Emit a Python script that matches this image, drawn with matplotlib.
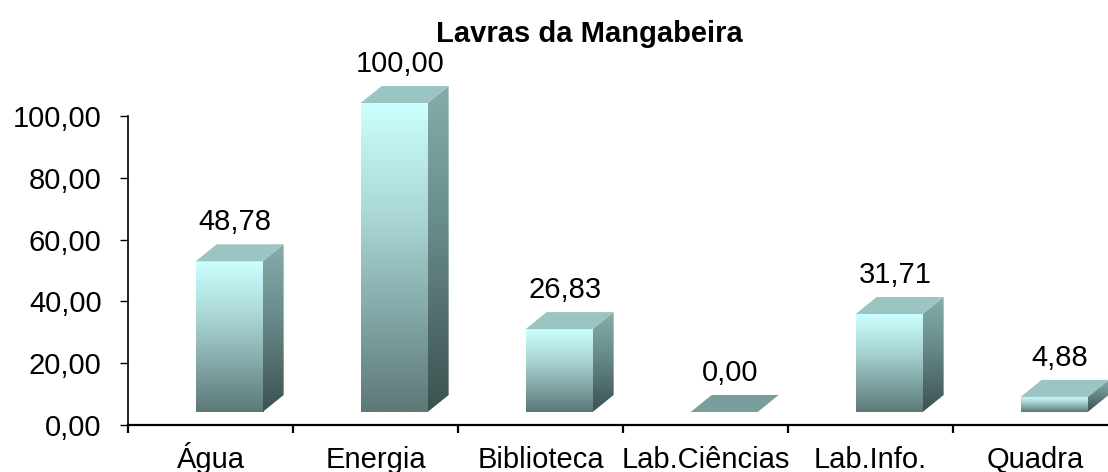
import numpy as np
import matplotlib
matplotlib.use("Agg")
import matplotlib.pyplot as plt
from matplotlib.patches import Polygon
from matplotlib.colors import to_rgb

categories = ["Água", "Energia", "Biblioteca", "Lab.Ciências", "Lab.Info.", "Quadra"]
values = [48.78, 100.00, 26.83, 0.00, 31.71, 4.88]
yticks = [0, 20, 40, 60, 80, 100]
title = "Lavras da Mangabeira"

plt.rcParams['font.family'] = ['Liberation Sans', 'DejaVu Sans']

W, H = 1108, 472
fig = plt.figure(figsize=(W / 100, H / 100), dpi=100)
cat_px = 165.0
ypx = 3.09
ytop = 125.0
ax = fig.add_axes([128 / W, (H - 425) / H, 6 * cat_px / W, ytop * ypx / H])
ax.set_xlim(0, 6)
ax.set_ylim(0, ytop)

ux = 1 / cat_px
uy = 1 / ypx

front_off = 13 * uy
dx = 21 * ux
dy = 17 * uy
bw = 67 * ux
bl = 0.41
FS = 21


def fmt(v):
    return f"{v:.2f}".replace('.', ',')


def grad(c_top, c_mid, c_bot, n=256, mid=0.4):
    t = np.linspace(0, 1, n)
    ct, cm, cb = map(np.array, (to_rgb(c_top), to_rgb(c_mid), to_rgb(c_bot)))
    out = np.zeros((n, 1, 3))
    for k, tt in enumerate(t):
        if tt < mid:
            a = tt / mid
            out[k, 0] = ct * (1 - a) + cm * a
        else:
            a = (tt - mid) / (1 - mid)
            out[k, 0] = cm * (1 - a) + cb * a
    return out


front_img = grad('#CCFFFF', '#A8D5D4', '#5C7877', mid=0.38)
side_img = grad('#86ADAB', '#6A8E8C', '#3C5150', mid=0.4)
top_col = '#9BC5C3'

for i, v in enumerate(values):
    x0 = i + bl
    yb = front_off
    yt = front_off + v
    if v > 0:
        ax.imshow(front_img, extent=[x0, x0 + bw, yb, yt], origin='upper',
                  aspect='auto', interpolation='bilinear', zorder=2)
        side = Polygon([(x0 + bw, yb), (x0 + bw + dx, yb + dy),
                        (x0 + bw + dx, yt + dy), (x0 + bw, yt)],
                       closed=True, facecolor='none', edgecolor='none')
        ax.add_patch(side)
        im = ax.imshow(side_img, extent=[x0 + bw, x0 + bw + dx, yb, yt + dy],
                       origin='upper', aspect='auto', interpolation='bilinear',
                       zorder=2)
        im.set_clip_path(side)
    tc = top_col if v > 0 else '#7A9E9B'
    top = Polygon([(x0, yt), (x0 + bw, yt), (x0 + bw + dx, yt + dy), (x0 + dx, yt + dy)],
                  closed=True, facecolor=tc, edgecolor='none', zorder=3)
    ax.add_patch(top)
    ax.text(x0 + bw / 2 + 6 * ux, yt + dy + 14 * uy, fmt(v), ha='center',
            va='baseline', fontsize=FS, color='black', zorder=4)

ax.set_aspect('auto')
ax.set_xlim(0, 6)
ax.set_ylim(0, ytop)

for s in ['top', 'right']:
    ax.spines[s].set_visible(False)
ax.spines['left'].set_bounds(0, 100)
ax.spines['left'].set_linewidth(1.2)
ax.spines['bottom'].set_linewidth(1.6)

ax.set_yticks(yticks)
ax.set_yticklabels([fmt(t) for t in yticks], fontsize=FS)
ax.tick_params(axis='y', direction='out', length=6, width=1.0, pad=13)

ax.set_xticks(np.arange(0, 7))
ax.set_xticklabels([])
ax.tick_params(axis='x', which='major', direction='out', length=6, width=1.6)
ax.set_xticks(np.arange(6) + 0.5, minor=True)
ax.set_xticklabels(categories, minor=True, fontsize=FS)
ax.tick_params(axis='x', which='minor', length=0, pad=31)
for lab in ax.get_xticklabels(minor=True):
    lab.set_verticalalignment('baseline')

fig.text(589 / W, (H - 42) / H, title, ha='center', va='baseline',
         fontsize=FS, fontweight='bold')

fig.savefig('out.png', dpi=100)
